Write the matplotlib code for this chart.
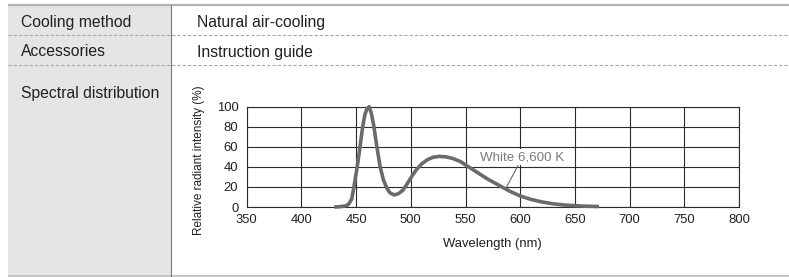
import matplotlib as mpl
mpl.use('Agg')
from matplotlib import pyplot as plt
from matplotlib.patches import Rectangle

plt.rcParams['font.family'] = ['Liberation Sans', 'DejaVu Sans']
plt.rcParams['lines.scale_dashes'] = False

# table rows (label, value)
row_labels = ['Cooling method', 'Accessories', 'Spectral distribution']
row_values = ['Natural air-cooling', 'Instruction guide', '']

# spectrum
wavelength = [430, 435, 440, 443, 446, 448, 451, 453.6, 456, 458, 460, 462,
              464, 466, 469, 472, 475, 478, 481, 485, 489, 493, 496, 500,
              505, 510, 515, 520, 526, 532, 538, 545, 550, 555, 560, 570,
              580, 590, 600, 610, 620, 630, 640, 650, 660, 672]
intensity = [0, 0.3, 1, 2.5, 8, 20, 40, 60, 80, 92, 98, 100,
             93, 82, 60, 40, 27, 19, 14, 12, 13.5, 17, 22, 29,
             37, 43, 47, 49.5, 50.5, 50, 48.5, 45.5, 42, 38.5, 35, 28,
             22, 16, 11, 7.5, 5, 3.2, 2, 1.3, 0.8, 0.5]
series_label = 'White 6,600 K'
xticks = [350, 400, 450, 500, 550, 600, 650, 700, 750, 800]
yticks = [0, 20, 40, 60, 80, 100]

W, H = 789, 277
fig = plt.figure(figsize=(W / 100, H / 100), dpi=100)

# background axes in pixel units for the table
bg = fig.add_axes([0, 0, 1, 1], zorder=0)
bg.set_xlim(0, W)
bg.set_ylim(H, 0)
bg.axis('off')

bg.add_patch(Rectangle((8, 5), 163.5, 271, facecolor='#e5e5e5', edgecolor='none'))
bg.plot([8, W], [4.5, 4.5], color='#b3b3b3', lw=1.6, solid_capstyle='butt')
bg.plot([8, W], [276, 276], color='#bdbdbd', lw=1.2, solid_capstyle='butt')
bg.plot([171.5, 171.5], [5, 276], color='#7a7a7a', lw=0.8)
for yy in (35, 65):
    bg.plot([8, W], [yy, yy], color='#a8a8a8', lw=0.8, dashes=(2.4, 1.4))

baselines = [26.7, 56.5, 98]
for lab, val, yb in zip(row_labels, row_values, baselines):
    bg.text(21, yb, lab, fontsize=11.3, color='#231f20', va='baseline', ha='left')
    if val:
        bg.text(197, yb, val, fontsize=11.3, color='#231f20', va='baseline', ha='left')

# chart
ax = fig.add_axes([246.7 / W, 1 - 207 / H, 492.3 / W, 100.3 / H], zorder=2)
ax.patch.set_alpha(0)
ax.set_xlim(350, 800)
ax.set_ylim(0, 100)
ax.set_xticks(xticks)
ax.set_yticks(yticks)
ax.tick_params(length=0, labelsize=9.4, colors='#231f20')
ax.tick_params(axis='x', pad=5)
ax.tick_params(axis='y', pad=6)
ax.grid(True, color='#2b2b2b', lw=0.8)
ax.set_axisbelow(True)
for s in ax.spines.values():
    s.set_color('#2b2b2b')
    s.set_linewidth(0.8)

ax.plot(wavelength, intensity, color='#6b6b6b', lw=2.6, solid_capstyle='butt',
        clip_on=False, zorder=3)
ax.annotate(series_label, xy=(587.7, 20.3), xytext=(602, 49.5),
            ha='center', va='center', fontsize=9.6, color='#7a7a7a',
            bbox=dict(boxstyle='square,pad=0.15', fc='white', ec='none'),
            arrowprops=dict(arrowstyle='-', color='#6b6b6b', lw=0.8,
                            shrinkA=0, shrinkB=0),
            zorder=4)

ax.set_xlabel('Wavelength (nm)', fontsize=9.4, color='#231f20')
ax.xaxis.set_label_coords(0.5, -0.309)
ax.set_ylabel('Relative radiant intensity (%)', fontsize=8.5, color='#231f20')
ax.yaxis.set_label_coords(-0.0837, 0.469)

fig.savefig('out.png', dpi=100)
